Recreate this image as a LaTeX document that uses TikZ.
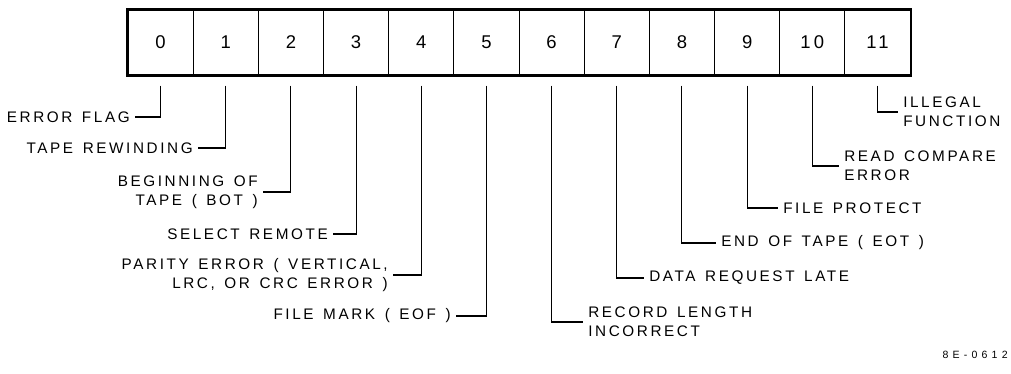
\documentclass[tikz,border=0pt]{standalone}
\usepackage{fontspec}
\setmainfont{Liberation Sans}[LetterSpace=17, WordSpace=1.4]
\usetikzlibrary{positioning}

\begin{document}
\begin{tikzpicture}[x=0.02cm, y=-0.02cm,
    bitcell/.style={draw, line width=0.6pt, minimum width=1.3034cm, minimum height=1.3cm, inner sep=0pt, font=\fontsize{10.5}{12}\selectfont},
    flagleft/.style={anchor=east, align=right, inner sep=2.8pt, font=\fontsize{8.7}{10.8}\selectfont},
    flagright/.style={anchor=west, align=left, inner sep=2.8pt, font=\fontsize{8.7}{10.8}\selectfont},
    leader/.style={line width=0.6pt}]
    \useasboundingbox (0,0) rectangle (1011,373);

    % Register bits
    \foreach \i in {0,...,11}
        \node[bitcell] (bit\i) at ({160.6+65.17*\i}, 42.5) {\i};
    \draw[line width=1.2pt] (bit0.north west) rectangle (bit11.south east);

    % Bit names, left side
    \node[flagleft] (errflag) at (135,117) {ERROR FLAG};
    \node[flagleft] (rewind) at (198,148) {TAPE REWINDING};
    \node[flagleft] (bot) at (263,192) {BEGINNING OF\\TAPE ( BOT )};
    \node[flagleft] (remote) at (333,234) {SELECT REMOTE};
    \node[flagleft] (parity) at (393,275) {PARITY ERROR ( VERTICAL,\\LRC, OR CRC ERROR )};
    \node[flagleft] (eof) at (456,316) {FILE MARK ( EOF )};

    % Bit names, right side
    \node[flagright] (reclen) at (583,322) {RECORD LENGTH\\INCORRECT};
    \node[flagright] (late) at (644,278) {DATA REQUEST LATE};
    \node[flagright] (eot) at (716,243) {END OF TAPE ( EOT )};
    \node[flagright] (protect) at (778,208) {FILE PROTECT};
    \node[flagright] (compare) at (839,166) {READ COMPARE\\ERROR};
    \node[flagright] (illegal) at (898,112) {ILLEGAL\\FUNCTION};

    % Leaders
    \foreach \b/\l in {0/errflag, 1/rewind, 2/bot, 3/remote, 4/parity, 5/eof}
        \draw[leader] ([yshift=-0.2cm]bit\b.south) |- (\l.east);
    \foreach \b/\l in {6/reclen, 7/late, 8/eot, 9/protect, 10/compare, 11/illegal}
        \draw[leader] ([yshift=-0.2cm]bit\b.south) |- (\l.west);

    % Drawing number
    \node[font=\fontsize{6}{7}\selectfont\addfontfeature{LetterSpace=40}, anchor=east, inner sep=0pt] (dwgno) at (1008,355) {8E-0612};
\end{tikzpicture}
\end{document}
